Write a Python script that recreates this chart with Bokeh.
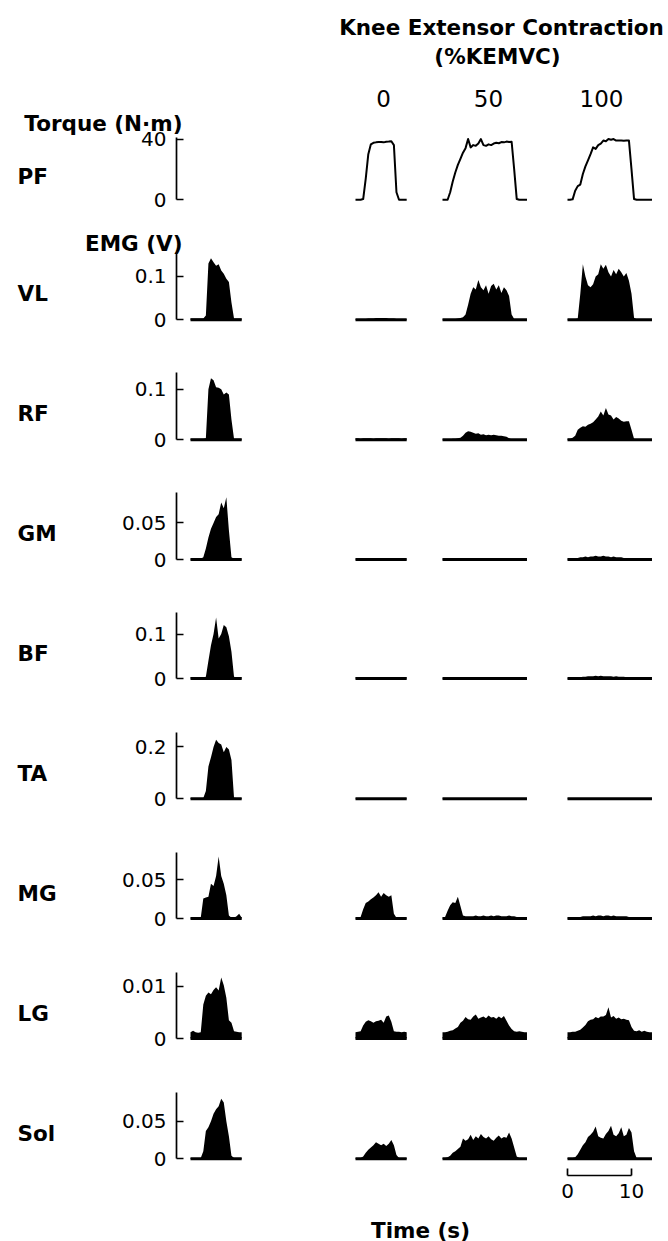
import numpy as np
from bokeh.plotting import figure
from bokeh.models import Range1d, LinearAxis, FixedTicker
from bokeh.core.properties import value
from bokeh.embed import file_html
from bokeh.resources import INLINE

# ---------------- data ----------------
muscles = ["PF", "VL", "RF", "GM", "BF", "TA", "MG", "LG", "Sol"]
ke_levels = ["0", "50", "100"]
axis_max = [41.2, 0.156, 0.134, 0.092, 0.149, 0.257, 0.0857, 0.0127, 0.0888]
tick_values = [[0, 40], [0, 0.1], [0, 0.1], [0, 0.05], [0, 0.1], [0, 0.2], [0, 0.05], [0, 0.01], [0, 0.05]]
tick_labels = [["0", "40"], ["0", "0.1"], ["0", "0.1"], ["0", "0.05"], ["0", "0.1"],
               ["0", "0.2"], ["0", "0.05"], ["0", "0.01"], ["0", "0.05"]]
scale_ticks = [0, 10]
DT = 0.4  # seconds between samples

# Torque (N·m)
pf_ke0 = [0, 0, 0, 0.5, 14, 30, 36.5, 37.5, 37.8, 38, 38, 37.8, 38.2, 38.3, 38.5, 36, 5, 0, 0, 0, 0]
pf_ke50 = [0, 0, 0, 5, 12, 18, 23, 27, 31, 34, 40, 34.5, 36, 35.5, 37, 40, 36, 35.5, 36.5, 36,
           37, 37.5, 37.2, 38, 37.8, 38.3, 38, 38.2, 20, 0.5, 0, 0, 0, 0]
pf_ke100 = [0, 0, 0.3, 6, 9, 10, 17, 22, 26, 30, 34.5, 33.5, 36, 37, 39, 38.5, 40, 39.5, 40, 39,
            39, 39, 38.8, 39, 39, 20, 0.5, 0, 0, 0, 0, 0, 0, 0]

# EMG (V)
vl_pf = [.003, .003, .003, .003, .003, .003, .01, .13, .142, .133, .125, .128, .114, .106, .095, .087, .04, .003, .003, .003, .003]
vl_ke0 = [.002, .002, .002, .002, .002, .003, .003, .003, .004, .004, .004, .004, .004, .003, .003, .003, .002, .002, .002, .002, .002]
vl_ke50 = [.001, .001, .001, .001, .002, .002, .003, .004, .006, .012, .035, .06, .075, .07, .092, .075, .068, .08, .06, .078,
           .083, .07, .08, .062, .075, .068, .055, .012, .002, .001, .001, .001, .001, .001]
vl_ke100 = [.001, .001, .001, .002, .003, .06, .128, .1, .08, .075, .082, .1, .105, .128, .118, .127, .11, .1, .115, .105,
            .118, .11, .1, .108, .09, .06, .005, .001, .001, .001, .001, .001, .001, .001]

rf_pf = [.002, .002, .002, .002, .002, .002, .003, .1, .122, .118, .104, .103, .1, .09, .094, .09, .04, .002, .002, .002, .002]
rf_ke0 = [.003, .003, .002, .003, .003, .003, .003, .002, .003, .003, .003, .003, .003, .002, .003, .003, .003, .003, .002, .003, .003]
rf_ke50 = [.001, .001, .001, .001, .002, .002, .003, .004, .008, .014, .017, .016, .014, .012, .013, .01, .011, .009, .01, .009,
           .01, .009, .008, .008, .007, .006, .003, .001, .001, .001, .001, .001, .001, .001]
rf_ke100 = [.002, .002, .004, .008, .02, .024, .027, .026, .03, .032, .035, .04, .046, .056, .048, .063, .05, .048, .04, .045,
            .042, .038, .036, .037, .037, .02, .002, .001, .001, .001, .001, .001, .001, .001]

gm_pf = [.001, .001, .001, .001, .001, .003, .015, .03, .042, .05, .058, .062, .078, .07, .085, .04, .003, .001, .001, .001, .001]
gm_ke0 = [.001, .001, .001, .001, .001, .001, .0012, .0012, .001, .001, .001, .0012, .001, .001, .001, .001, .001, .001, .001, .001, .001]
gm_ke50 = [.001, .001, .001, .001, .001, .001, .001, .0012, .0012, .0012, .001, .001, .0012, .0015, .0012, .001, .001, .0012, .0015, .0015,
           .0012, .001, .001, .0012, .001, .001, .001, .001, .001, .001, .001, .001, .001, .001]
gm_ke100 = [.001, .001, .001, .0015, .002, .003, .003, .004, .003, .004, .004, .005, .004, .004, .005, .004, .004, .003, .004, .003,
            .003, .003, .002, .002, .002, .002, .002, .0015, .0015, .0015, .001, .001, .001, .001]

bf_pf = [.002, .002, .002, .002, .002, .002, .004, .04, .075, .1, .137, .09, .1, .12, .115, .095, .06, .004, .002, .002, .002]
bf_ke0 = [.002, .002, .002, .002, .002, .002, .002, .002, .002, .002, .002, .002, .002, .002, .002, .002, .002, .002, .002, .002, .002]
bf_ke50 = [.001, .001, .001, .001, .001, .002, .002, .002, .002, .002, .003, .003, .003, .003, .003, .003, .003, .003, .003, .003,
           .003, .002, .002, .002, .002, .002, .002, .002, .002, .002, .002, .001, .001, .001]
bf_ke100 = [.001, .001, .001, .002, .002, .003, .004, .004, .005, .005, .005, .006, .005, .006, .005, .005, .005, .005, .004, .005,
            .004, .004, .004, .003, .003, .003, .003, .002, .002, .002, .002, .002, .002, .002]

ta_pf = [.003, .003, .003, .003, .003, .003, .03, .125, .16, .2, .228, .215, .21, .18, .2, .19, .15, .004, .003, .003, .003]
ta_ke0 = [.002, .002, .002, .002, .002, .002, .002, .002, .002, .002, .002, .002, .002, .002, .002, .002, .002, .002, .002, .002, .002]
ta_ke50 = [.002, .002, .002, .002, .002, .002, .002, .003, .003, .003, .003, .003, .003, .003, .003, .003, .003, .003, .003, .003,
           .003, .003, .003, .003, .003, .003, .002, .002, .002, .002, .002, .002, .002, .002]
ta_ke100 = [.002, .002, .002, .002, .002, .002, .003, .003, .003, .003, .003, .003, .003, .003, .003, .003, .003, .003, .003, .003,
            .003, .003, .003, .003, .003, .003, .003, .002, .002, .002, .002, .002, .002, .002]

mg_pf = [.001, .001, .001, .001, .001, .026, .027, .028, .045, .042, .055, .08, .055, .045, .03, .004, .001, .001, .003, .006, .001]
mg_ke0 = [.001, .001, .002, .012, .02, .022, .025, .027, .03, .034, .028, .033, .03, .028, .03, .006, .001, .001, .001, .001, .001]
mg_ke50 = [.001, .002, .01, .017, .021, .02, .028, .016, .004, .003, .003, .003, .003, .004, .003, .003, .004, .003, .003, .004,
           .003, .004, .004, .003, .003, .003, .004, .003, .003, .002, .002, .002, .002, .002]
mg_ke100 = [.001, .001, .001, .002, .002, .002, .003, .003, .003, .003, .004, .003, .004, .004, .003, .004, .004, .003, .004, .003,
            .003, .003, .003, .003, .002, .002, .002, .002, .002, .002, .002, .001, .001, .001]

lg_pf = [.0012, .0015, .0012, .0011, .0012, .0065, .0082, .0088, .0085, .0093, .0098, .0092, .0117, .0102, .0078, .0035, .003,
         .0014, .0013, .0012, .0012]
lg_ke0 = [.0012, .0013, .0014, .0025, .0032, .0035, .0033, .003, .0033, .0034, .0036, .003, .0042, .0044, .0032, .0014, .0013,
          .0013, .0012, .0013, .0012]
lg_ke50 = [.0012, .0012, .0013, .0015, .0016, .0019, .0022, .003, .0034, .0041, .0037, .0036, .0042, .0046, .0038, .004, .0042,
           .0039, .0044, .004, .0041, .0038, .0042, .0039, .0043, .0034, .0025, .0018, .0014, .0013, .0014, .0013, .0012, .0012]
lg_ke100 = [.0012, .0012, .0013, .0013, .0015, .0017, .0021, .0026, .0033, .0036, .0037, .0041, .0039, .0042, .0042, .0045, .006,
            .004, .0043, .0038, .004, .0037, .0038, .0036, .0035, .0022, .0015, .0014, .0016, .0013, .0015, .0013, .0012, .0012]

sol_pf = [.001, .001, .001, .001, .001, .01, .037, .042, .05, .06, .066, .07, .08, .075, .05, .03, .004, .001, .001, .001, .001]
sol_ke0 = [.001, .001, .001, .003, .008, .012, .015, .018, .022, .02, .018, .02, .017, .02, .025, .018, .005, .001, .001, .001, .001]
sol_ke50 = [.001, .001, .002, .004, .008, .01, .013, .016, .027, .024, .026, .032, .025, .03, .027, .033, .029, .027, .03, .026,
            .024, .028, .031, .027, .029, .028, .035, .027, .015, .003, .001, .001, .001, .001]
sol_ke100 = [.001, .001, .001, .002, .006, .012, .018, .022, .029, .032, .036, .043, .03, .028, .027, .033, .037, .044, .032, .03,
             .034, .042, .03, .032, .041, .035, .01, .001, .001, .001, .001, .001, .001, .001]

series = {
    "PF": [None, pf_ke0, pf_ke50, pf_ke100],
    "VL": [vl_pf, vl_ke0, vl_ke50, vl_ke100],
    "RF": [rf_pf, rf_ke0, rf_ke50, rf_ke100],
    "GM": [gm_pf, gm_ke0, gm_ke50, gm_ke100],
    "BF": [bf_pf, bf_ke0, bf_ke50, bf_ke100],
    "TA": [ta_pf, ta_ke0, ta_ke50, ta_ke100],
    "MG": [mg_pf, mg_ke0, mg_ke50, mg_ke100],
    "LG": [lg_pf, lg_ke0, lg_ke50, lg_ke100],
    "Sol": [sol_pf, sol_ke0, sol_ke50, sol_ke100],
}

# ---------------- layout (page pixels) ----------------
W, H = 668, 1241
X0, Y0 = 0, 0
X1, Y1 = X0 + W, Y0 + H
PX_PER_S = 6.4
col_left = [190, 355, 442, 567]
row_top = [136.7, 251.7, 371.7, 491.7, 611.7, 731.7, 851.7, 971.7, 1091.7]
row_base = [199.3, 319.3, 439.3, 559.0, 678.0, 798.3, 918.0, 1038.0, 1158.3]
AXIS_X = 176
FONT = "DejaVu Sans"
BOLD_SIZE = "21.5px"

p = figure(width=W, height=H, x_range=Range1d(X0, X1), y_range=Range1d(Y1, Y0),
           x_axis_type=None, y_axis_type=None, min_border=0,
           toolbar_location=None, output_backend="svg", outline_line_color=None,
           background_fill_color="white", border_fill_color="white")

p.extra_x_ranges = {
    f"c{j}": Range1d((X0 - L) / PX_PER_S, (X1 - L) / PX_PER_S) for j, L in enumerate(col_left)
}
yr = {}
for i in range(len(muscles)):
    u = (row_base[i] - row_top[i]) / axis_max[i]
    yr[f"r{i}"] = Range1d(-(Y1 - row_base[i]) / u, (row_base[i] - Y0) / u)
p.extra_y_ranges = yr

# traces
for i, m in enumerate(muscles):
    for j, vals in enumerate(series[m]):
        if vals is None:
            continue
        v = np.asarray(vals, dtype=float)
        t = np.arange(len(v)) * DT
        kw = dict(x_range_name=f"c{j}", y_range_name=f"r{i}")
        if m == "PF":
            p.line(t, v, line_width=2, line_color="black", line_join="round", **kw)
        else:
            p.varea(x=t, y1=np.zeros(len(v)), y2=v, fill_color="black", **kw)
            p.line(x=[t[0], t[-1]], y=[0, 0], line_width=3, line_color="black", **kw)

# y axes
for i in range(len(muscles)):
    ax = LinearAxis(y_range_name=f"r{i}", fixed_location=AXIS_X, bounds=(0, axis_max[i]),
                    ticker=FixedTicker(ticks=tick_values[i]),
                    major_label_overrides=dict(zip(tick_values[i], tick_labels[i])))
    ax.axis_line_width = 1.7
    ax.axis_line_color = "black"
    ax.major_tick_line_width = 1.7
    ax.major_tick_line_color = "black"
    ax.major_tick_in = 7
    ax.major_tick_out = 0
    ax.minor_tick_line_color = None
    ax.major_label_text_font = FONT
    ax.major_label_text_font_size = "20px"
    ax.major_label_text_color = "black"
    ax.major_label_standoff = 10
    p.add_layout(ax, "left")

# time scale bar
sb = LinearAxis(x_range_name="c3", fixed_location=1175, bounds=(0, 10),
                ticker=FixedTicker(ticks=scale_ticks))
sb.axis_line_width = 1.7
sb.axis_line_color = "black"
sb.major_tick_line_width = 1.7
sb.major_tick_line_color = "black"
sb.major_tick_in = 7
sb.major_tick_out = 0
sb.minor_tick_line_color = None
sb.major_label_text_font = FONT
sb.major_label_text_font_size = "20px"
sb.major_label_text_color = "black"
sb.major_label_standoff = 8
p.add_layout(sb, "below")

# texts
p.text(x=[501, 497], y=[27, 56], text=["Knee Extensor Contraction", "(%KEMVC)"],
       text_font=value(FONT), text_font_style="bold", text_font_size=BOLD_SIZE,
       text_align="center", text_baseline="alphabetic", text_color="black")
p.text(x=[383, 488, 601], y=[98, 98, 98], text=ke_levels,
       text_font=value(FONT), text_font_size="23px",
       text_align="center", text_baseline="alphabetic", text_color="black")
p.text(x=[182, 182], y=[123, 242.5], text=["Torque (N·m)", "EMG (V)"],
       text_font=value(FONT), text_font_style="bold", text_font_size=BOLD_SIZE,
       text_align="right", text_baseline="alphabetic", text_color="black")
label_y = [(a + b) / 2 + 7.8 for a, b in zip(row_top, row_base)]
p.text(x=[17] * len(muscles), y=label_y, text=muscles,
       text_font=value(FONT), text_font_style="bold", text_font_size=BOLD_SIZE,
       text_align="left", text_baseline="alphabetic", text_color="black")
p.text(x=[420], y=[1229.5], text=["Time (s)"],
       text_font=value(FONT), text_font_style="bold", text_font_size=BOLD_SIZE,
       text_align="center", text_baseline="alphabetic", text_color="black")

open("out.html", "w").write(file_html(p, INLINE, "EMG"))
